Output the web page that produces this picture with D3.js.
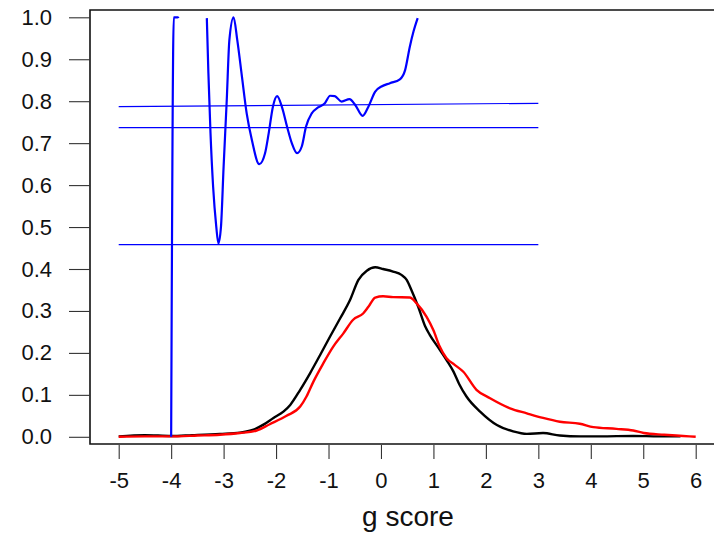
<!DOCTYPE html>
<html>
<head>
<meta charset="utf-8">
<script src="https://cdn.jsdelivr.net/npm/d3@7"></script>
<style>
  html, body { margin: 0; padding: 0; background: #fff; }
  svg { display: block; font-family: "Liberation Sans", Arial, sans-serif; }
</style>
</head>
<body>
<svg id="chart" width="714" height="533"></svg>
<script>
// g score grid and density estimates for two groups
const blackX = [-5.0, -4.5, -4.0, -3.6, -3.07, -2.69, -2.43, -2.24, -2.05, -1.86, -1.73, -1.54, -1.35, -1.16, -0.97, -0.78, -0.59, -0.43, -0.27, -0.11, 0.04, 0.23, 0.39, 0.49, 0.58, 0.71, 0.84, 0.93, 1.09, 1.25, 1.38, 1.49, 1.63, 1.89, 2.21, 2.52, 2.78, 3.09, 3.41, 3.8, 4.18, 4.81, 5.3, 5.71];
const blackY = [0.001, 0.004, 0.002, 0.004, 0.007, 0.010, 0.017, 0.029, 0.045, 0.060, 0.076, 0.112, 0.152, 0.195, 0.239, 0.282, 0.326, 0.374, 0.396, 0.404, 0.400, 0.394, 0.386, 0.374, 0.350, 0.310, 0.264, 0.243, 0.213, 0.183, 0.156, 0.126, 0.096, 0.060, 0.028, 0.013, 0.007, 0.009, 0.003, 0.001, 0.001, 0.002, 0.001, 0.001];

const redX = [-5.0, -4.5, -4.0, -3.5, -3.07, -2.69, -2.37, -2.12, -1.80, -1.54, -1.42, -1.29, -1.10, -0.91, -0.72, -0.53, -0.34, -0.24, -0.11, 0.04, 0.23, 0.55, 0.68, 0.87, 1.00, 1.12, 1.25, 1.40, 1.57, 1.82, 2.08, 2.46, 2.78, 3.09, 3.41, 3.79, 4.05, 4.49, 4.81, 5.01, 5.40, 5.76, 6.0];
const redY = [0.000, 0.001, 0.001, 0.003, 0.005, 0.009, 0.015, 0.030, 0.050, 0.072, 0.096, 0.131, 0.175, 0.215, 0.246, 0.279, 0.294, 0.310, 0.332, 0.335, 0.333, 0.332, 0.318, 0.286, 0.254, 0.215, 0.187, 0.172, 0.155, 0.112, 0.092, 0.068, 0.056, 0.045, 0.036, 0.031, 0.023, 0.019, 0.015, 0.009, 0.005, 0.002, 0.000];

// blue ratio curve, drawn as two pieces (it leaves the range in between)
const blueAX = [-4.0, -3.95, -3.87, -3.86];
const blueAY = [0.0, 1.0, 1.0, 0.998];
const blueBX = [-3.32, -3.29, -3.25, -3.20, -3.14, -3.10, -3.05, -3.00, -2.94, -2.89, -2.81, -2.74, -2.65, -2.56, -2.46, -2.32, -2.21, -2.14, -2.06, -1.98, -1.89, -1.79, -1.70, -1.60, -1.51, -1.43, -1.32, -1.20, -1.07, -0.97, -0.88, -0.75, -0.60, -0.49, -0.35, -0.24, -0.11, 0.01, 0.17, 0.36, 0.46, 0.55, 0.62, 0.70];
const blueBY = [0.998, 0.867, 0.724, 0.596, 0.501, 0.461, 0.501, 0.644, 0.803, 0.946, 1.0, 0.946, 0.858, 0.771, 0.707, 0.650, 0.676, 0.724, 0.787, 0.812, 0.787, 0.739, 0.700, 0.676, 0.692, 0.739, 0.771, 0.785, 0.795, 0.813, 0.812, 0.799, 0.805, 0.791, 0.765, 0.787, 0.823, 0.835, 0.843, 0.852, 0.874, 0.930, 0.966, 0.998];

// reference lines: [x0, y0, x1, y1]
const refLines = [
  [-5, 0.787, 3, 0.795],
  [-5, 0.737, 3, 0.737],
  [-5, 0.458, 3, 0.458]
];

const xTicks = [-5, -4, -3, -2, -1, 0, 1, 2, 3, 4, 5, 6];
const yTicks = [0, 0.1, 0.2, 0.3, 0.4, 0.5, 0.6, 0.7, 0.8, 0.9, 1.0];
const xTitle = "g score";

const svg = d3.select("#chart");

const x = d3.scaleLinear().domain([-5, 6]).range([118.7, 695.7]);
const y = d3.scaleLinear().domain([0, 1]).range([436.8, 17.3]);

const boxLeft = 90, boxTop = 10, boxBottom = 444, boxRight = 730;

// frame (left, top and bottom edges)
svg.append("path")
  .attr("d", `M${boxRight},${boxTop}H${boxLeft}V${boxBottom}H${boxRight}`)
  .attr("fill", "none")
  .attr("stroke", "#111")
  .attr("stroke-width", 1.6);

// y axis
const yAxis = svg.append("g")
  .attr("transform", `translate(${boxLeft},0)`)
  .call(d3.axisLeft(y).tickValues(yTicks).tickFormat(d => d.toFixed(1)).tickSize(21).tickPadding(17));
yAxis.select(".domain").remove();
yAxis.selectAll(".tick line").attr("stroke", "#333").attr("stroke-width", 1.1);
yAxis.selectAll(".tick text")
  .attr("font-size", 22)
  .attr("fill", "#111")
  .attr("font-family", "Liberation Sans, Arial, sans-serif");

// x axis (plain hyphen for negatives)
const xAxis = svg.append("g")
  .attr("transform", `translate(0,${boxBottom + 1})`)
  .call(d3.axisBottom(x).tickValues(xTicks).tickFormat(d => String(d)).tickSize(14).tickPadding(13));
xAxis.select(".domain").remove();
xAxis.selectAll(".tick line").attr("stroke", "#333").attr("stroke-width", 1.1);
xAxis.selectAll(".tick text")
  .attr("font-size", 22)
  .attr("fill", "#111")
  .attr("font-family", "Liberation Sans, Arial, sans-serif");

svg.append("text")
  .attr("x", 408)
  .attr("y", 526)
  .attr("text-anchor", "middle")
  .attr("font-size", 28)
  .attr("fill", "#111")
  .text(xTitle);

const zip = (a, b) => a.map((v, i) => [v, b[i]]);
const smooth = d3.line().x(d => x(d[0])).y(d => y(d[1])).curve(d3.curveMonotoneX);

// reference lines
svg.append("g").selectAll("line")
  .data(refLines)
  .join("line")
  .attr("x1", d => x(d[0])).attr("y1", d => y(d[1]))
  .attr("x2", d => x(d[2])).attr("y2", d => y(d[3]))
  .attr("stroke", "#0000ff")
  .attr("stroke-width", 1.2);

// density curves
svg.append("path")
  .datum(zip(blackX, blackY))
  .attr("d", smooth)
  .attr("fill", "none")
  .attr("stroke", "#000")
  .attr("stroke-width", 2.4)
  .attr("stroke-linejoin", "round");

svg.append("path")
  .datum(zip(redX, redY))
  .attr("d", smooth)
  .attr("fill", "none")
  .attr("stroke", "#ff0000")
  .attr("stroke-width", 2.4)
  .attr("stroke-linejoin", "round");

// ratio curve
[zip(blueAX, blueAY), zip(blueBX, blueBY)].forEach(seg => {
  svg.append("path")
    .datum(seg)
    .attr("d", smooth)
    .attr("fill", "none")
    .attr("stroke", "#0000ff")
    .attr("stroke-width", 2.2)
    .attr("stroke-linejoin", "round");
});
</script>
</body>
</html>
